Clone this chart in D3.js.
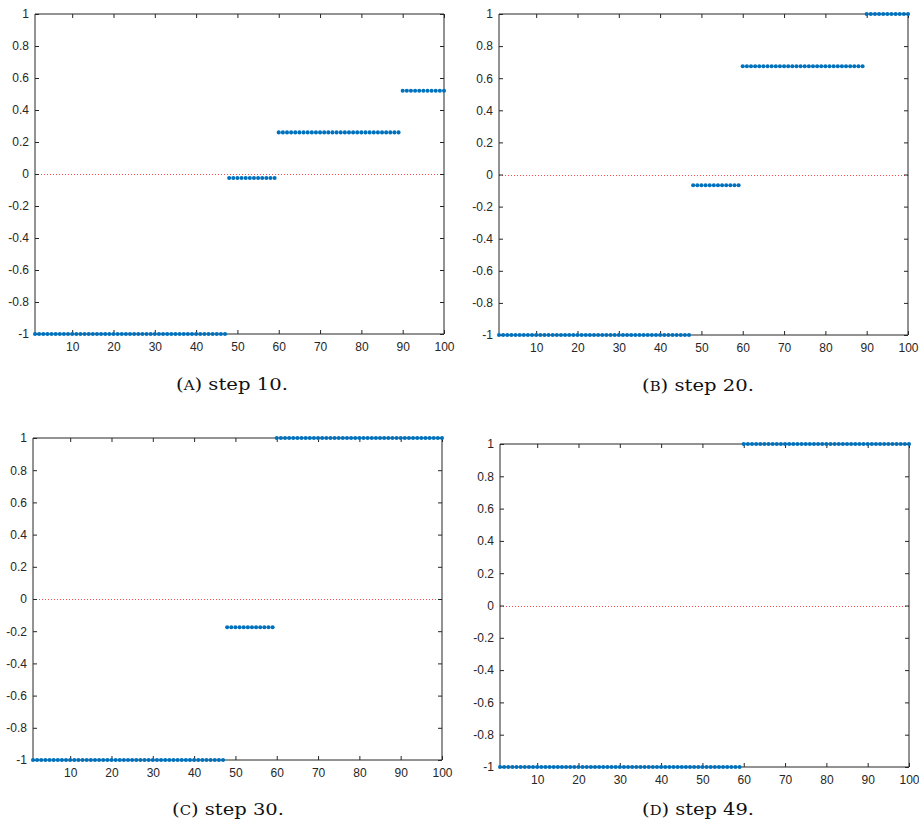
<!DOCTYPE html>
<html>
<head>
<meta charset="utf-8">
<script src="https://cdn.jsdelivr.net/npm/d3@7"></script>
<style>
  html, body { margin: 0; padding: 0; background: #fff; }
  svg { display: block; }
</style>
</head>
<body>
<svg id="chart" width="919" height="827"></svg>
<script>
// ---- data ----
const xTicks = [10, 20, 30, 40, 50, 60, 70, 80, 90, 100];
const yTicks = [-1, -0.8, -0.6, -0.4, -0.2, 0, 0.2, 0.4, 0.6, 0.8, 1];
const yTickLabels = ["-1", "-0.8", "-0.6", "-0.4", "-0.2", "0", "0.2", "0.4", "0.6", "0.8", "1"];
const captionLetters = ["A", "B", "C", "D"];
const captionSteps = ["step 10.", "step 20.", "step 30.", "step 49."];

const seriesA = [
  -1,-1,-1,-1,-1,-1,-1,-1,-1,-1,
  -1,-1,-1,-1,-1,-1,-1,-1,-1,-1,
  -1,-1,-1,-1,-1,-1,-1,-1,-1,-1,
  -1,-1,-1,-1,-1,-1,-1,-1,-1,-1,
  -1,-1,-1,-1,-1,-1,-1,-0.025,-0.025,-0.025,
  -0.025,-0.025,-0.025,-0.025,-0.025,-0.025,-0.025,-0.025,-0.025,0.26,
  0.26,0.26,0.26,0.26,0.26,0.26,0.26,0.26,0.26,0.26,
  0.26,0.26,0.26,0.26,0.26,0.26,0.26,0.26,0.26,0.26,
  0.26,0.26,0.26,0.26,0.26,0.26,0.26,0.26,0.26,0.52,
  0.52,0.52,0.52,0.52,0.52,0.52,0.52,0.52,0.52,0.52
];
const seriesB = [
  -1,-1,-1,-1,-1,-1,-1,-1,-1,-1,
  -1,-1,-1,-1,-1,-1,-1,-1,-1,-1,
  -1,-1,-1,-1,-1,-1,-1,-1,-1,-1,
  -1,-1,-1,-1,-1,-1,-1,-1,-1,-1,
  -1,-1,-1,-1,-1,-1,-1,-0.067,-0.067,-0.067,
  -0.067,-0.067,-0.067,-0.067,-0.067,-0.067,-0.067,-0.067,-0.067,0.674,
  0.674,0.674,0.674,0.674,0.674,0.674,0.674,0.674,0.674,0.674,
  0.674,0.674,0.674,0.674,0.674,0.674,0.674,0.674,0.674,0.674,
  0.674,0.674,0.674,0.674,0.674,0.674,0.674,0.674,0.674,1,
  1,1,1,1,1,1,1,1,1,1
];
const seriesC = [
  -1,-1,-1,-1,-1,-1,-1,-1,-1,-1,
  -1,-1,-1,-1,-1,-1,-1,-1,-1,-1,
  -1,-1,-1,-1,-1,-1,-1,-1,-1,-1,
  -1,-1,-1,-1,-1,-1,-1,-1,-1,-1,
  -1,-1,-1,-1,-1,-1,-1,-0.175,-0.175,-0.175,
  -0.175,-0.175,-0.175,-0.175,-0.175,-0.175,-0.175,-0.175,-0.175,1,
  1,1,1,1,1,1,1,1,1,1,
  1,1,1,1,1,1,1,1,1,1,
  1,1,1,1,1,1,1,1,1,1,
  1,1,1,1,1,1,1,1,1,1
];
const seriesD = [
  -1,-1,-1,-1,-1,-1,-1,-1,-1,-1,
  -1,-1,-1,-1,-1,-1,-1,-1,-1,-1,
  -1,-1,-1,-1,-1,-1,-1,-1,-1,-1,
  -1,-1,-1,-1,-1,-1,-1,-1,-1,-1,
  -1,-1,-1,-1,-1,-1,-1,-1,-1,-1,
  -1,-1,-1,-1,-1,-1,-1,-1,-1,1,
  1,1,1,1,1,1,1,1,1,1,
  1,1,1,1,1,1,1,1,1,1,
  1,1,1,1,1,1,1,1,1,1,
  1,1,1,1,1,1,1,1,1,1
];
const allSeries = [seriesA, seriesB, seriesC, seriesD];

// ---- layout ----
const boxes = [
  { left: 35,  right: 444, top: 14,  bottom: 334, capX: 232, capY: 390 },
  { left: 499, right: 908, top: 14,  bottom: 335, capX: 698, capY: 391 },
  { left: 33,  right: 442, top: 438, bottom: 760, capX: 228, capY: 815 },
  { left: 500, right: 909, top: 444, bottom: 767, capX: 698, capY: 815 }
];
const captionWidth = 112;

const axisColor = "#262626";
const dotColor = "#0072BD";
const svg = d3.select("#chart");

boxes.forEach((b, i) => {
  const data = allSeries[i].map((v, k) => ({ x: k + 1, y: v }));
  const x = d3.scaleLinear().domain([1, 100]).range([b.left, b.right]);
  const y = d3.scaleLinear().domain([-1, 1]).range([b.bottom, b.top]);
  const g = svg.append("g");

  // zero reference line (red dotted)
  g.append("line")
    .attr("x1", x(1)).attr("x2", x(100))
    .attr("y1", Math.round(y(0)) + 0.5).attr("y2", Math.round(y(0)) + 0.5)
    .attr("stroke", "#ff4a4a").attr("stroke-width", 1)
    .attr("stroke-dasharray", "1,2");

  // axes
  const tickLen = 4;
  const bottomAxis = d3.axisBottom(x).tickValues(xTicks).tickSize(-tickLen).tickPadding(8).tickFormat(d3.format("d"));
  const topAxis = d3.axisTop(x).tickValues(xTicks).tickSize(-tickLen).tickFormat("");
  const leftAxis = d3.axisLeft(y).tickValues(yTicks).tickSize(-tickLen).tickPadding(6)
    .tickFormat((d) => yTickLabels[yTicks.indexOf(d)]);
  const rightAxis = d3.axisRight(y).tickValues(yTicks).tickSize(-tickLen).tickFormat("");

  const style = (sel) => {
    sel.selectAll("path").attr("stroke", axisColor).attr("stroke-width", 1);
    sel.selectAll("line").attr("stroke", axisColor).attr("stroke-width", 1);
    sel.selectAll("text").attr("fill", axisColor)
      .style("font-family", "'Liberation Sans', Arial, sans-serif")
      .style("font-size", "12px");
  };

  g.append("g").attr("transform", `translate(0,${b.bottom})`).call(bottomAxis).call(style)
    .call((s) => s.select(".domain").attr("d", `M${b.left},0H${b.right}`));
  g.append("g").attr("transform", `translate(0,${b.top})`).call(topAxis).call(style)
    .call((s) => s.select(".domain").attr("d", `M${b.left},0H${b.right}`));
  g.append("g").attr("transform", `translate(${b.left},0)`).call(leftAxis).call(style)
    .call((s) => s.select(".domain").attr("d", `M0,${b.bottom}V${b.top}`));
  g.append("g").attr("transform", `translate(${b.right},0)`).call(rightAxis).call(style)
    .call((s) => s.select(".domain").attr("d", `M0,${b.bottom}V${b.top}`));

  // dots
  g.append("g").selectAll("circle").data(data).join("circle")
    .attr("cx", (d) => x(d.x))
    .attr("cy", (d) => y(d.y))
    .attr("r", 2.05)
    .attr("fill", dotColor);

  // caption (serif, small-caps letter), stretched to the reference width
  const capG = svg.append("g");
  const cap = capG.append("text")
    .attr("x", 0).attr("y", 0)
    .attr("text-anchor", "middle")
    .attr("fill", "#111")
    .style("font-family", "'DejaVu Serif', 'Liberation Serif', serif")
    .style("font-size", "16.5px");
  cap.append("tspan").text("(");
  cap.append("tspan").style("font-size", "12.5px").text(captionLetters[i]);
  cap.append("tspan").text(") " + captionSteps[i]);
  const w = cap.node().getComputedTextLength();
  const sx = w > 0 ? captionWidth / w : 1;
  capG.attr("transform", `translate(${b.capX},${b.capY}) scale(${sx},1)`);
});
</script>
</body>
</html>
